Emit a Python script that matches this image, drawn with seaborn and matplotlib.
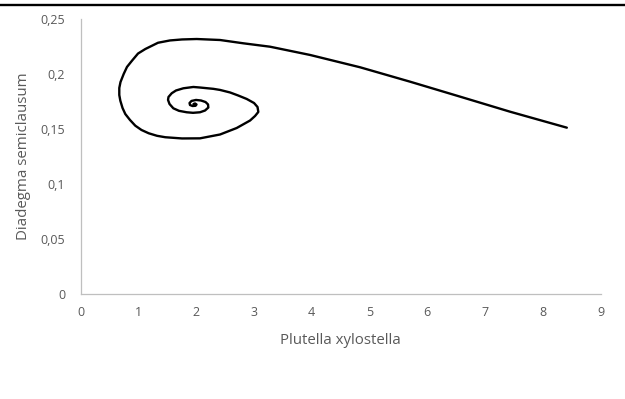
import matplotlib
matplotlib.use("Agg")
import matplotlib.pyplot as plt
from matplotlib.lines import Line2D
import numpy as np
import pandas as pd
import seaborn as sns

# Phase trajectory: host (Plutella xylostella) vs parasitoid (Diadegma semiclausum)
plutella = [
    8.412, 7.431, 6.566, 5.701, 4.836, 3.971, 3.279, 2.817, 2.414, 2.010,
    1.756, 1.548, 1.341, 1.121, 0.995, 0.891, 0.804, 0.747, 0.692, 0.671,
    0.671, 0.689, 0.727, 0.775, 0.856, 0.948, 1.055, 1.180, 1.324, 1.467,
    1.756, 2.067, 2.414, 2.702, 2.933, 3.019, 3.076, 3.062, 3.002, 2.875,
    2.725, 2.587, 2.414, 2.298, 2.067, 1.952, 1.779, 1.652, 1.578, 1.522,
    1.514, 1.540, 1.606, 1.704, 1.837, 1.946, 2.067, 2.154, 2.211, 2.206,
    2.163, 2.085, 1.998, 1.920, 1.886, 1.894, 1.938, 1.990, 2.007, 1.981,
    1.955,
]
diadegma = [
    0.1512, 0.1657, 0.1794, 0.1930, 0.2061, 0.2173, 0.2248, 0.2279, 0.2309, 0.2318,
    0.2314, 0.2305, 0.2284, 0.2227, 0.2186, 0.2121, 0.2064, 0.2000, 0.1927, 0.1873,
    0.1809, 0.1757, 0.1691, 0.1636, 0.1582, 0.1530, 0.1491, 0.1461, 0.1438, 0.1425,
    0.1414, 0.1415, 0.1450, 0.1509, 0.1577, 0.1618, 0.1655, 0.1700, 0.1736, 0.1773,
    0.1805, 0.1832, 0.1855, 0.1865, 0.1877, 0.1882, 0.1870, 0.1850, 0.1825, 0.1791,
    0.1764, 0.1727, 0.1688, 0.1665, 0.1652, 0.1647, 0.1652, 0.1668, 0.1695, 0.1723,
    0.1745, 0.1759, 0.1764, 0.1755, 0.1736, 0.1718, 0.1709, 0.1711, 0.1723, 0.1732,
    0.1727,
]
x_ticks = [0, 1, 2, 3, 4, 5, 6, 7, 8, 9]
y_ticks = [0, 0.05, 0.1, 0.15, 0.2, 0.25]
y_tick_labels = ["0", "0,05", "0,1", "0,15", "0,2", "0,25"]

df = pd.DataFrame({"Plutella xylostella": plutella,
                   "Diadegma semiclausum": diadegma})

sns.set_theme(style="white")
plt.rcParams["font.family"] = ["Open Sans", "DejaVu Sans"]

fig = plt.figure(figsize=(6.25, 3.99), dpi=100)
ax = fig.add_axes([0.1288, 0.2632, 0.8325, 0.6892])

sns.lineplot(data=df, x="Plutella xylostella", y="Diadegma semiclausum",
             sort=False, estimator=None, color="black", linewidth=1.7, ax=ax)
for ln in ax.get_lines():
    ln.set_solid_joinstyle("round")
    ln.set_solid_capstyle("round")

ax.set_xlim(0, 9)
ax.set_ylim(0, 0.25)
ax.set_xticks(x_ticks)
ax.set_xticklabels([str(t) for t in x_ticks])
ax.set_yticks(y_ticks)
ax.set_yticklabels(y_tick_labels)

ax.tick_params(axis="both", length=0, labelsize=9, labelcolor="#595959")
ax.tick_params(axis="y", pad=11)
ax.tick_params(axis="x", pad=9)

for side in ("top", "right"):
    ax.spines[side].set_visible(False)
for side in ("left", "bottom"):
    ax.spines[side].set_color("#bfbfbf")
    ax.spines[side].set_linewidth(0.9)

ax.set_xlabel("Plutella xylostella", fontsize=10.8, color="#595959", labelpad=10)
ax.set_ylabel("Diadegma semiclausum", fontsize=10.8, color="#595959", labelpad=7)

# heavy rule across the top of the figure
fig.add_artist(Line2D([0, 1], [0.9875, 0.9875], transform=fig.transFigure,
                      color="black", linewidth=1.7))

fig.savefig("out.png", dpi=100)
